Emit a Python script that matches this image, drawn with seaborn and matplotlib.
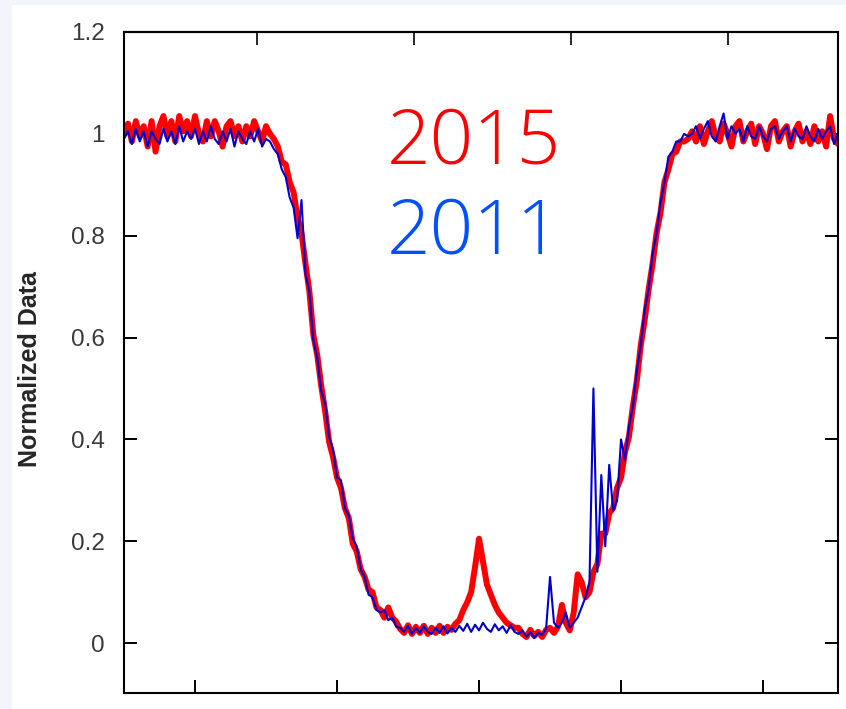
import numpy as np
import pandas as pd
import matplotlib
matplotlib.use("Agg")
import matplotlib.pyplot as plt
import matplotlib.patches as patches
import seaborn as sns

# normalized spectra, one value per channel
red_2015 = [1.00, 1.02, 0.985, 1.025, 0.995, 1.015, 0.975, 1.025, 0.965, 1.015,
            1.035, 0.995, 1.025, 0.985, 1.035, 1.005, 1.025, 0.995, 1.035, 1.00,
            0.985, 1.025, 0.995, 1.025, 1.005, 0.975, 1.015, 1.025, 0.995, 1.015,
            0.985, 1.015, 0.995, 1.025, 1.005, 0.985, 1.015,
            1.00, 0.99, 0.975, 0.945, 0.94, 0.905, 0.885, 0.835, 0.805, 0.745,
            0.69, 0.605, 0.565, 0.505, 0.455, 0.395, 0.365, 0.325, 0.305, 0.265,
            0.245, 0.195, 0.18, 0.145, 0.13, 0.105, 0.10, 0.07, 0.065, 0.05,
            0.07, 0.05, 0.042, 0.028,
            0.02, 0.035, 0.018, 0.032, 0.02, 0.034, 0.018, 0.03, 0.02, 0.034,
            0.02, 0.032, 0.026, 0.038,
            0.045, 0.065, 0.08, 0.10, 0.15, 0.205, 0.16, 0.115, 0.095, 0.075,
            0.06, 0.05, 0.04, 0.035, 0.03, 0.03,
            0.018, 0.012, 0.026, 0.014, 0.022, 0.012, 0.026,
            0.03, 0.02, 0.032, 0.075, 0.04, 0.025, 0.06, 0.135, 0.12, 0.09,
            0.10, 0.14, 0.155, 0.215, 0.215, 0.255, 0.265, 0.305, 0.325, 0.375,
            0.405, 0.465, 0.515, 0.585, 0.635, 0.695, 0.745, 0.805, 0.845, 0.905,
            0.93, 0.96, 0.965, 0.985, 0.985, 0.99,
            1.005, 0.985, 1.015, 0.98, 1.005, 1.025, 0.995, 0.985, 1.02, 1.00,
            0.975, 1.015, 1.025, 0.985, 1.005, 1.02, 0.98, 1.015, 1.00, 0.97,
            1.015, 1.025, 0.985, 1.005, 1.015, 0.975, 1.005, 1.02, 0.985, 1.005,
            0.98, 1.015, 0.985, 1.005, 0.975, 1.035, 0.99, 0.98]

blue_2011 = [0.99, 1.005, 0.98, 1.01, 0.985, 1.005, 0.975, 1.005, 0.99, 0.98,
             1.01, 0.985, 1.005, 0.98, 1.015, 0.985, 1.005, 0.99, 1.01, 0.98,
             1.005, 0.985, 1.015, 0.99, 0.98, 1.005, 0.985, 1.01, 0.975, 1.005,
             0.99, 0.98, 1.005, 0.985, 1.01, 0.975, 0.99,
             0.985, 0.97, 0.96, 0.93, 0.915, 0.875, 0.855, 0.795, 0.87, 0.725,
             0.69, 0.595, 0.56, 0.495, 0.47, 0.405, 0.38, 0.325, 0.32, 0.265,
             0.25, 0.205, 0.19, 0.145, 0.13, 0.095, 0.09, 0.065, 0.06, 0.065,
             0.045, 0.05, 0.032, 0.03,
             0.022, 0.034, 0.018, 0.03, 0.02, 0.033, 0.022, 0.018, 0.03, 0.02,
             0.033, 0.019, 0.03, 0.022,
             0.034, 0.024, 0.038, 0.022, 0.036, 0.025, 0.04,
             0.028, 0.022, 0.037, 0.025, 0.033, 0.02, 0.035, 0.022, 0.018,
             0.025, 0.012, 0.022, 0.01, 0.02, 0.016, 0.028,
             0.13, 0.04, 0.03, 0.04, 0.06, 0.03, 0.04, 0.05, 0.07, 0.09,
             0.12, 0.50, 0.14, 0.33, 0.19, 0.35, 0.26, 0.28, 0.40, 0.36,
             0.425, 0.465, 0.535, 0.585, 0.655, 0.695, 0.765, 0.805, 0.865, 0.905,
             0.955, 0.965, 0.985, 0.985, 1.0, 0.995,
             1.00, 1.015, 0.99, 1.01, 1.025, 0.995, 0.985, 1.015, 1.04, 0.99,
             1.015, 1.00, 1.01, 0.985, 1.015, 0.995, 0.99, 1.015, 0.995, 0.985,
             1.01, 1.015, 0.99, 1.005, 1.015, 0.985, 1.01, 0.995, 0.99, 1.015,
             0.995, 0.985, 1.01, 0.99, 1.005, 1.015, 0.98, 1.0]

y_ticks = [0, 0.2, 0.4, 0.6, 0.8, 1.0, 1.2]
y_tick_labels = ['0', '0.2', '0.4', '0.6', '0.8', '1', '1.2']
bottom_ticks = [18, 54, 90, 126, 162]
top_ticks = [33.7, 73.5, 113.3, 153.2]

df = pd.DataFrame({'channel': np.arange(len(red_2015)),
                   '2015': red_2015,
                   '2011': blue_2011})

sns.set_style('ticks')
plt.rcParams['font.family'] = ['Liberation Sans', 'DejaVu Sans']

fig = plt.figure(figsize=(8.46, 7.09), dpi=100, facecolor='#f2f6fc')
# white card behind the plot
fig.patches.append(patches.Rectangle((12 / 846, 0), 1, 1 - 5 / 709,
                                     transform=fig.transFigure,
                                     facecolor='white', edgecolor='none', zorder=-5))

ax = fig.add_axes([124 / 846, 16 / 709, 714 / 846, 661 / 709])
ax.set_zorder(2)
ax.set_facecolor('white')

sns.lineplot(data=df, x='channel', y='2015', color='#ff0000', lw=4.3, ax=ax)
sns.lineplot(data=df, x='channel', y='2011', color='#0000d0', lw=1.5, ax=ax)

ax.set_xlim(0, 181)
ax.set_ylim(-0.098, 1.2)
ax.set_xticks(bottom_ticks)
ax.set_xticklabels([])
ax.set_yticks(y_ticks)
ax.set_yticklabels(y_tick_labels)
ax.set_xlabel('')
ax.set_ylabel('Normalized Data', fontsize=18, fontweight='bold')
ax.yaxis.set_label_coords(-0.115, 0.49)

for s in ax.spines.values():
    s.set_visible(True)
    s.set_linewidth(1.5)
    s.set_color('black')

ax.tick_params(axis='both', direction='in', length=9.5, width=1.4,
               colors='black', labelcolor='#3a3a3a', labelsize=17.5)
ax.tick_params(axis='y', right=True, pad=14)
ax.tick_params(axis='x', top=False)

secax = ax.secondary_xaxis('top')
secax.set_xticks(top_ticks)
secax.tick_params(direction='in', length=9.5, width=1.4, labeltop=False)
secax.spines['top'].set_linewidth(1.5)

fig.text(387 / 846, 1 - 163 / 709, '2015', color='#ff0000', fontsize=55,
         fontweight='light', family=['Open Sans', 'DejaVu Sans'],
         va='baseline', ha='left', zorder=5)
fig.text(387 / 846, 1 - 254 / 709, '2011', color='#0050ff', fontsize=55,
         fontweight='light', family=['Open Sans', 'DejaVu Sans'],
         va='baseline', ha='left', zorder=5)

fig.savefig('out.png', dpi=100, facecolor=fig.get_facecolor())
